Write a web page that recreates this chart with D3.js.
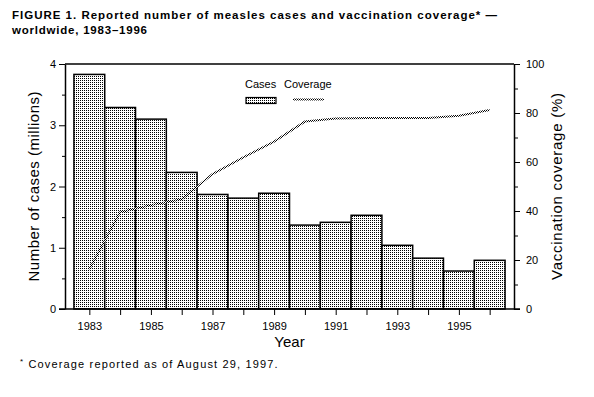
<!DOCTYPE html>
<html>
<head>
<meta charset="utf-8">
<script src="https://cdn.jsdelivr.net/npm/d3@7"></script>
<style>
  body { margin: 0; background: #fff; }
  svg { display: block; font-family: "Liberation Sans", Arial, sans-serif; }
</style>
</head>
<body>
<svg id="svg" width="594" height="397"></svg>
<script>
// data
const years = [1983, 1984, 1985, 1986, 1987, 1988, 1989, 1990, 1991, 1992, 1993, 1994, 1995, 1996]
const cases = [3.83, 3.29, 3.10, 2.23, 1.87, 1.81, 1.89, 1.37, 1.415, 1.53, 1.04, 0.83, 0.62, 0.795]
const coverage = [16.2, 39.5, 42.4, 44.8, 55.1, 61.9, 68.3, 76.5, 77.8, 78, 78, 78, 78.9, 81.2]
const caseTicks = [0, 1, 2, 3, 4]
const caseMinor = [0.5, 1.5, 2.5, 3.5]
const covTicks = [0, 20, 40, 60, 80, 100]
const covMinor = [10, 30, 50, 70, 90]
const yearLabels = [1983, 1985, 1987, 1989, 1991, 1993, 1995]

const svg = d3.select('#svg')
const plotLeft = 65, plotRight = 514, plotTop = 64, plotBottom = 309

const x = d3.scaleLinear().domain([1982.21, 1996.79]).range([plotLeft, plotRight])
const yCases = d3.scaleLinear().domain([0, 4]).range([plotBottom, plotTop])
const yCov = d3.scaleLinear().domain([0, 100]).range([plotBottom, plotTop])

// patterns: stippled bars and checkered line
const defs = svg.append('defs')
const dots = defs.append('pattern').attr('id', 'dots')
  .attr('patternUnits', 'userSpaceOnUse').attr('width', 2).attr('height', 2)
dots.append('rect').attr('width', 2).attr('height', 2).attr('fill', '#fff')
dots.append('rect').attr('width', 1).attr('height', 1).attr('fill', '#000')

const checker = defs.append('pattern').attr('id', 'checker')
  .attr('patternUnits', 'userSpaceOnUse').attr('width', 2).attr('height', 2)
checker.append('rect').attr('width', 2).attr('height', 2).attr('fill', '#fff')
checker.append('rect').attr('width', 1).attr('height', 1).attr('fill', '#000')
checker.append('rect').attr('x', 1).attr('y', 1).attr('width', 1).attr('height', 1).attr('fill', '#000')

// title
svg.append('text').attr('x', 12).attr('y', 19)
  .attr('font-size', 11.5).attr('font-weight', 'bold')
  .attr('textLength', 485).attr('lengthAdjust', 'spacing')
  .text('FIGURE 1. Reported number of measles cases and vaccination coverage* —')
svg.append('text').attr('x', 12).attr('y', 33.5)
  .attr('font-size', 11.5).attr('font-weight', 'bold')
  .attr('textLength', 135).attr('lengthAdjust', 'spacing')
  .text('worldwide, 1983–1996')

// bars
svg.selectAll('.bar')
  .data(years)
  .enter()
  .append('rect')
  .attr('class', 'bar')
  .attr('x', d => x(d - 0.5))
  .attr('width', d => x(d + 0.5) - x(d - 0.5))
  .attr('y', (d, i) => yCases(cases[i]))
  .attr('height', (d, i) => plotBottom - yCases(cases[i]))
  .attr('fill', 'url(#dots)')
  .attr('stroke', '#000')
  .attr('stroke-width', 1.5)

// coverage line
const line = d3.line()
  .x(d => x(d[0]))
  .y(d => yCov(d[1]))
svg.append('path')
  .datum(years.map((yr, i) => [yr, coverage[i]]))
  .attr('d', line)
  .attr('fill', 'none')
  .attr('stroke', 'url(#checker)')
  .attr('stroke-width', 2)

// frame
svg.append('line').attr('x1', plotLeft).attr('x2', plotRight).attr('y1', plotTop).attr('y2', plotTop)
  .attr('stroke', '#000').attr('stroke-width', 1.5)

// axes
const styleAxis = g => {
  g.select('.domain').attr('stroke-width', 1.5)
  g.selectAll('text').attr('font-family', '"Liberation Sans", Arial, sans-serif').attr('fill', '#000')
}

svg.append('g').attr('transform', `translate(${plotLeft},0)`)
  .call(d3.axisLeft(yCases).tickValues(caseTicks).tickFormat(d3.format('d'))
    .tickSize(6).tickSizeOuter(0).tickPadding(3))
  .attr('font-size', 11)
  .call(styleAxis)
svg.append('g').attr('transform', `translate(${plotLeft},0)`)
  .call(d3.axisLeft(yCases).tickValues(caseMinor).tickFormat('').tickSize(3).tickSizeOuter(0))
  .call(g => g.select('.domain').remove())

svg.append('g').attr('transform', `translate(${plotRight},0)`)
  .call(d3.axisRight(yCov).tickValues(covTicks).tickFormat(d3.format('d'))
    .tickSize(6).tickSizeOuter(0).tickPadding(6))
  .attr('font-size', 11)
  .call(styleAxis)
svg.append('g').attr('transform', `translate(${plotRight},0)`)
  .call(d3.axisRight(yCov).tickValues(covMinor).tickFormat('').tickSize(4).tickSizeOuter(0))
  .call(g => g.select('.domain').remove())

svg.append('g').attr('transform', `translate(0,${plotBottom})`)
  .call(d3.axisBottom(x).tickValues(years)
    .tickFormat(d => yearLabels.includes(d) ? d : '')
    .tickSize(6).tickSizeOuter(0).tickPadding(7))
  .attr('font-size', 11)
  .call(styleAxis)
  .call(g => g.select('.domain').attr('d', `M${plotLeft - 6},0H${plotRight + 6}`))

// axis titles
svg.append('text')
  .attr('transform', `translate(38.5,${(plotTop + plotBottom) / 2}) rotate(-90)`)
  .attr('text-anchor', 'middle').attr('font-size', 15)
  .attr('textLength', 190).attr('lengthAdjust', 'spacing')
  .text('Number of cases (millions)')
svg.append('text')
  .attr('transform', `translate(562,${(plotTop + plotBottom) / 2}) rotate(-90)`)
  .attr('text-anchor', 'middle').attr('font-size', 15)
  .attr('textLength', 187).attr('lengthAdjust', 'spacing')
  .text('Vaccination coverage (%)')
svg.append('text')
  .attr('x', (plotLeft + plotRight) / 2).attr('y', 347)
  .attr('text-anchor', 'middle').attr('font-size', 15)
  .text('Year')

// legend
svg.append('text').attr('x', 245).attr('y', 88).attr('font-size', 11).text('Cases')
svg.append('text').attr('x', 284).attr('y', 88).attr('font-size', 11).text('Coverage')
svg.append('rect').attr('x', 246).attr('y', 97.5).attr('width', 30).attr('height', 6)
  .attr('fill', 'url(#dots)').attr('stroke', '#000').attr('stroke-width', 1.2)
svg.append('line').attr('x1', 293).attr('x2', 324).attr('y1', 99.5).attr('y2', 99.5)
  .attr('stroke', 'url(#checker)').attr('stroke-width', 2)

// footnote
svg.append('text').attr('x', 20).attr('y', 364).attr('font-size', 8).text('*')
svg.append('text').attr('x', 28.5).attr('y', 367.5).attr('font-size', 11)
  .attr('textLength', 249).attr('lengthAdjust', 'spacing')
  .text('Coverage reported as of August 29, 1997.')
</script>
</body>
</html>
